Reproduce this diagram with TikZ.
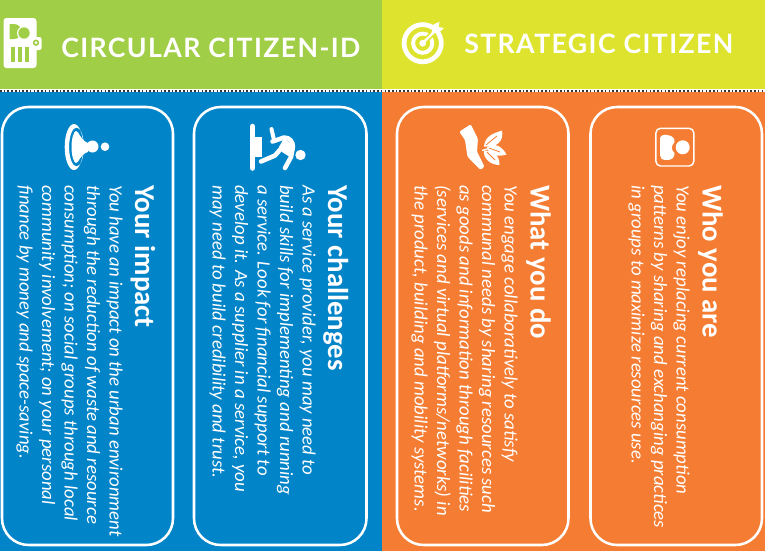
\documentclass[tikz,border=0pt]{standalone}
\usepackage{fontspec}
\setmainfont{Carlito}
\newfontfamily\titlefont[LetterSpace=5.2]{Lato}
\definecolor{cgreen}{HTML}{A1CE47}
\definecolor{cyellow}{HTML}{DEE32D}
\definecolor{cblue}{HTML}{0284C9}
\definecolor{corange}{HTML}{F57D33}
\tikzset{
  card/.style={draw=white,line width=1.9pt,rounded corners=20pt},
  headtitle/.style={text=white,anchor=base west,inner sep=0pt,font=\titlefont\fontsize{20}{24}\selectfont\bfseries},
  cardhead/.style={text=white,rotate=-90,anchor=north west,inner sep=0pt,font=\fontsize{21.6}{26}\selectfont\bfseries},
  cardbody/.style={text=white,rotate=-90,anchor=north west,inner sep=0pt,align=left,font=\fontsize{14.1}{16.9}\selectfont\itshape},
  limb/.style={draw=white,line width=3.4pt,line cap=round,line join=round},
}
\begin{document}
\begin{tikzpicture}[x=0.75pt,y=-0.75pt]
\useasboundingbox (0,0) rectangle (765,551);
% backgrounds
\fill[cgreen] (0,0) rectangle (382,89);
\fill[cyellow] (382,0) rectangle (765,89);
\fill[white] (0,89) rectangle (765,92);
\fill[cblue] (0,92) rectangle (382,551);
\fill[corange] (382,92) rectangle (765,551);
\draw[black!80,line width=1.2pt,dash pattern=on 1.2pt off 1.6pt] (0,90.8) -- (765,90.8);
% cards
\draw[card] (2,107) rectangle (173,545);
\draw[card] (194,107) rectangle (366.5,545);
\draw[card] (397,107) rectangle (568.5,545);
\draw[card] (590.5,107) rectangle (762,545);
% id icon
\fill[white,rounded corners=2.2pt] (3.5,18) rectangle (36.5,68);
\fill[white,rounded corners=1.5pt] (30,37) rectangle (41.5,50);
\fill[cgreen] (9.5,24) -- (14,24) arc[start angle=-90,end angle=90,radius=7.5] -- (9.5,39) -- cycle;
\fill[white] (24,33) circle[radius=7];
\fill[cgreen] (24,33) circle[radius=5.7];
\fill[cgreen] (36,42.7) circle[radius=3.2];
\fill[white] (36,42.7) circle[radius=1.5];
\fill[cgreen] (11,46.5) rectangle (15,62);
\fill[cgreen] (18,46.5) rectangle (22,62);
\fill[cgreen] (25,46.5) rectangle (28.5,62);
% target icon
\fill[white,even odd rule] (422.7,43.2) circle[radius=21] (422.7,43.2) circle[radius=16.2] (422.7,43.2) circle[radius=11.6] (422.7,43.2) circle[radius=7.6];
\draw[cyellow,line width=4.2pt] (425,41) -- (440,26);
\fill[white] (422.7,43.2) circle[radius=3.4];
\draw[white,line width=1.8pt] (422.7,43.2) -- (436,30);
\fill[white] (433.5,24.5) -- (439.5,21.7) -- (438.5,27) -- (444,28) -- (438,33.5) -- (431.5,33) -- cycle;
% impact icon
\fill[white,even odd rule] (74,147) ellipse[x radius=9.3,y radius=23] (76.5,147) ellipse[x radius=7.4,y radius=19.5];
\fill[white] (71.5,147) .. controls (71.5,138) and (74,131) .. (76,131) .. controls (79,131) and (80,140) .. (88,143) -- (88,152) .. controls (80,154) and (79,163) .. (76,163) .. controls (74,163) and (71.5,156) .. (71.5,147) -- cycle;
\fill[white] (92.5,146.5) circle[radius=6];
\fill[white] (105,146.7) circle[radius=4.3];
% challenges icon
\draw[white,line width=4.2pt,line cap=round] (252.5,126.5) -- (252.5,168);
\fill[white] (252.5,136.5) rectangle (262,157);
\draw[limb,line width=3pt] (271.5,129) -- (274,140);
\fill[white] (300.5,155) circle[radius=5.2];
\draw[limb] (261,161.5) -- (275,155.5) -- (282,147.5);
\draw[limb] (272.5,141.5) -- (284,137.5) .. controls (290,137.5) and (293,142) .. (293,147) -- (291,157) -- (285,168);
\fill[white] (279,147) -- (284,138) -- (292,145) -- (290,157) -- (282,152) -- cycle;
% hand and leaves icon
\fill[white,rounded corners=1pt] (459.3,131.7) -- (470.7,124.3) -- (478,139) -- (477,151.7) -- (484.5,166.5) -- (480.5,170) -- (467.5,156.7) -- (465,140) -- cycle;
\draw[white,line width=1pt] (482,150.5) -- (492,147.5);
\fill[white] (484,146.5) .. controls (485,136) and (493,133.5) .. (502,130.5) .. controls (504,141) and (497,148) .. (484,146.5) -- cycle;
\fill[white] (487,147.5) .. controls (494,142) and (502,146) .. (506.5,154.5) .. controls (498,157) and (490,156) .. (487,147.5) -- cycle;
\fill[white] (484,150.5) .. controls (492,150) and (500,155) .. (499.5,165) .. controls (490,165) and (483,158) .. (484,150.5) -- cycle;
\draw[corange,line width=0.6pt] (486,145) -- (497,136) (489,148) -- (500,152) (487,152) -- (495,160);
% person icon
\draw[white,line width=1.1pt,rounded corners=3.5pt] (655.9,128.3) rectangle (693.8,166);
\fill[white] (660,139) .. controls (660,135) and (664,134.5) .. (667,135) .. controls (673,135.5) and (675,139) .. (674.5,142) .. controls (671,146) and (671,150) .. (674.5,153) .. controls (675,158) and (671,160.5) .. (666,160) .. controls (662,160) and (660,158) .. (660,155) -- cycle;
\fill[white] (682.7,147.3) circle[radius=7];
% texts
\node[headtitle] (t1) at (61,57) {CIRCULAR CITIZEN-ID};
\node[headtitle] (t2) at (464,53) {STRATEGIC CITIZEN};
\node[cardhead] (h1) at (155.5,185) {Your impact};
\node[cardbody] (b1) at (123,185) {You have an impact on the urban environment\\through the reduction of waste and resource\\consumption; on social groups through local\\community involvement; on your personal\\finance by money and space-saving.};
\node[cardhead] (h2) at (348.5,185) {Your challenges};
\node[cardbody] (b2) at (316,185) {As a service provider, you may need to\\build skills for implementing and running\\a service. Look for financial support to\\develop it. As a supplier in a service, you\\may need to build credibility and trust.};
\node[cardhead] (h3) at (551,185) {What you do};
\node[cardbody] (b3) at (518,185) {You engage collaboratively to satisfy\\communal needs by sharing resources such\\as goods and information through facilities\\(services and virtual platforms/networks) in\\the product, building and mobility systems.};
\node[cardhead] (h4) at (723,185) {Who you are};
\node[cardbody] (b4) at (690,185) {You enjoy replacing current consumption\\patterns by sharing and exchanging practices\\in groups to maximize resources use.};
\end{tikzpicture}
\end{document}
